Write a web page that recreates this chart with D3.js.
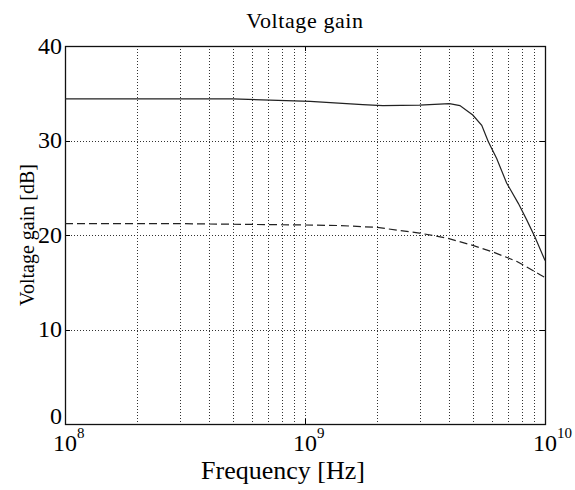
<!DOCTYPE html>
<html>
<head>
<meta charset="utf-8">
<script src="https://cdn.jsdelivr.net/npm/d3@7"></script>
<style>
  html, body { margin: 0; padding: 0; background: #fff; }
  svg { display: block; }
  text { font-family: "Liberation Serif", "Times New Roman", serif; fill: #000; }
</style>
</head>
<body>
<svg id="chart" width="575" height="490"></svg>
<script>
// ---- data ----
const titleText = "Voltage gain";
const xLabelText = "Frequency [Hz]";
const yLabelText = "Voltage gain [dB]";

const xDomain = [1e8, 1e10];
const yDomain = [0, 40];
const yTicks = [0, 10, 20, 30, 40];
const xMajorTicks = [1e8, 1e9, 1e10];
const xMajorExponents = ["8", "9", "10"];
const xGridTicks = [2e8, 3e8, 4e8, 5e8, 6e8, 7e8, 8e8, 9e8, 1e9, 2e9, 3e9, 4e9, 5e9, 6e9, 7e9, 8e9, 9e9];
const yGridTicks = [10, 20, 30];

// solid curve
const freqSolid = [1e8, 2e8, 5e8, 1.05e9, 1.74e9, 2.11e9, 3.0e9, 4.0e9, 4.42e9, 5.0e9, 5.45e9, 5.8e9, 6.29e9, 6.92e9, 7.74e9, 8.39e9, 9.08e9, 1e10];
const gainSolid = [34.4, 34.4, 34.4, 34.15, 33.8, 33.7, 33.75, 33.9, 33.7, 32.7, 31.6, 29.9, 28.1, 25.5, 23.35, 21.6, 19.8, 17.3];

// dashed curve
const freqDashed = [1e8, 3e8, 9.8e8, 1.4e9, 2.0e9, 3.0e9, 3.94e9, 5.0e9, 6.07e9, 7.64e9, 9.54e9, 1e10];
const gainDashed = [21.2, 21.2, 21.06, 21.0, 20.8, 20.2, 19.65, 18.9, 18.2, 17.2, 15.8, 15.5];

// ---- layout ----
const L = 65, R = 545, T = 46, B = 424;
const svg = d3.select("#chart");

const x = d3.scaleLog().domain(xDomain).range([L, R]);
const y = d3.scaleLinear().domain(yDomain).range([B, T]);

// grid
const grid = svg.append("g").attr("stroke", "#000").attr("stroke-width", 1)
  .attr("stroke-dasharray", "1,2").attr("opacity", 0.8);
grid.selectAll("line.vx").data(xGridTicks).join("line")
  .attr("x1", d => Math.round(x(d)) + 0.5).attr("x2", d => Math.round(x(d)) + 0.5)
  .attr("y1", T).attr("y2", B);
grid.selectAll("line.hy").data(yGridTicks).join("line")
  .attr("x1", L).attr("x2", R)
  .attr("y1", d => Math.round(y(d)) + 0.5).attr("y2", d => Math.round(y(d)) + 0.5);

// tick marks (inside, on all sides)
const ticks = svg.append("g").attr("stroke", "#000").attr("stroke-width", 1);
ticks.selectAll("line.yl").data(yTicks).join("line")
  .attr("x1", L).attr("x2", L + 5)
  .attr("y1", d => Math.round(y(d)) + 0.5).attr("y2", d => Math.round(y(d)) + 0.5);
ticks.selectAll("line.yr").data(yTicks).join("line")
  .attr("x1", R - 5).attr("x2", R)
  .attr("y1", d => Math.round(y(d)) + 0.5).attr("y2", d => Math.round(y(d)) + 0.5);
ticks.selectAll("line.xb").data(xMajorTicks).join("line")
  .attr("x1", d => Math.round(x(d)) + 0.5).attr("x2", d => Math.round(x(d)) + 0.5)
  .attr("y1", B - 5).attr("y2", B);
ticks.selectAll("line.xt").data(xMajorTicks).join("line")
  .attr("x1", d => Math.round(x(d)) + 0.5).attr("x2", d => Math.round(x(d)) + 0.5)
  .attr("y1", T).attr("y2", T + 5);

// box
svg.append("rect").attr("x", L + 0.5).attr("y", T + 0.5)
  .attr("width", R - L).attr("height", B - T)
  .attr("fill", "none").attr("stroke", "#111").attr("stroke-width", 1.3);

// curves
const line = d3.line().x(d => x(d[0])).y(d => y(d[1]));
svg.append("path").datum(d3.zip(freqSolid, gainSolid))
  .attr("d", line).attr("fill", "none").attr("stroke", "#222").attr("stroke-width", 1.2);
svg.append("path").datum(d3.zip(freqDashed, gainDashed))
  .attr("d", line).attr("fill", "none").attr("stroke", "#222").attr("stroke-width", 1.2)
  .attr("stroke-dasharray", "8,4");

// y tick labels
svg.append("g").selectAll("text").data(yTicks).join("text")
  .attr("x", L - 3).attr("y", d => y(d) - (d === 0 ? 8 : 0)).attr("dy", "0.33em")
  .attr("text-anchor", "end").attr("font-size", 24).text(d => d);

// x tick labels (10^n)
const xl = svg.append("g");
xMajorTicks.forEach((t, i) => {
  const g = xl.append("g");
  g.append("text").attr("x", x(t)).attr("y", 451)
    .attr("text-anchor", "middle").attr("font-size", 24).text("10");
  g.append("text").attr("x", x(t) + 12).attr("y", 438)
    .attr("text-anchor", "start").attr("font-size", 15).text(xMajorExponents[i]);
});

// title
svg.append("text").attr("x", (L + R) / 2).attr("y", 28)
  .attr("text-anchor", "middle").attr("font-size", 22).attr("letter-spacing", 0.6)
  .text(titleText);

// x label
svg.append("text").attr("x", (L + R) / 2 - 22).attr("y", 479)
  .attr("text-anchor", "middle").attr("font-size", 26).text(xLabelText);

// y label
svg.append("text").attr("transform", `translate(34,${(T + B) / 2}) rotate(-90)`)
  .attr("text-anchor", "middle").attr("font-size", 20).text(yLabelText);
</script>
</body>
</html>
